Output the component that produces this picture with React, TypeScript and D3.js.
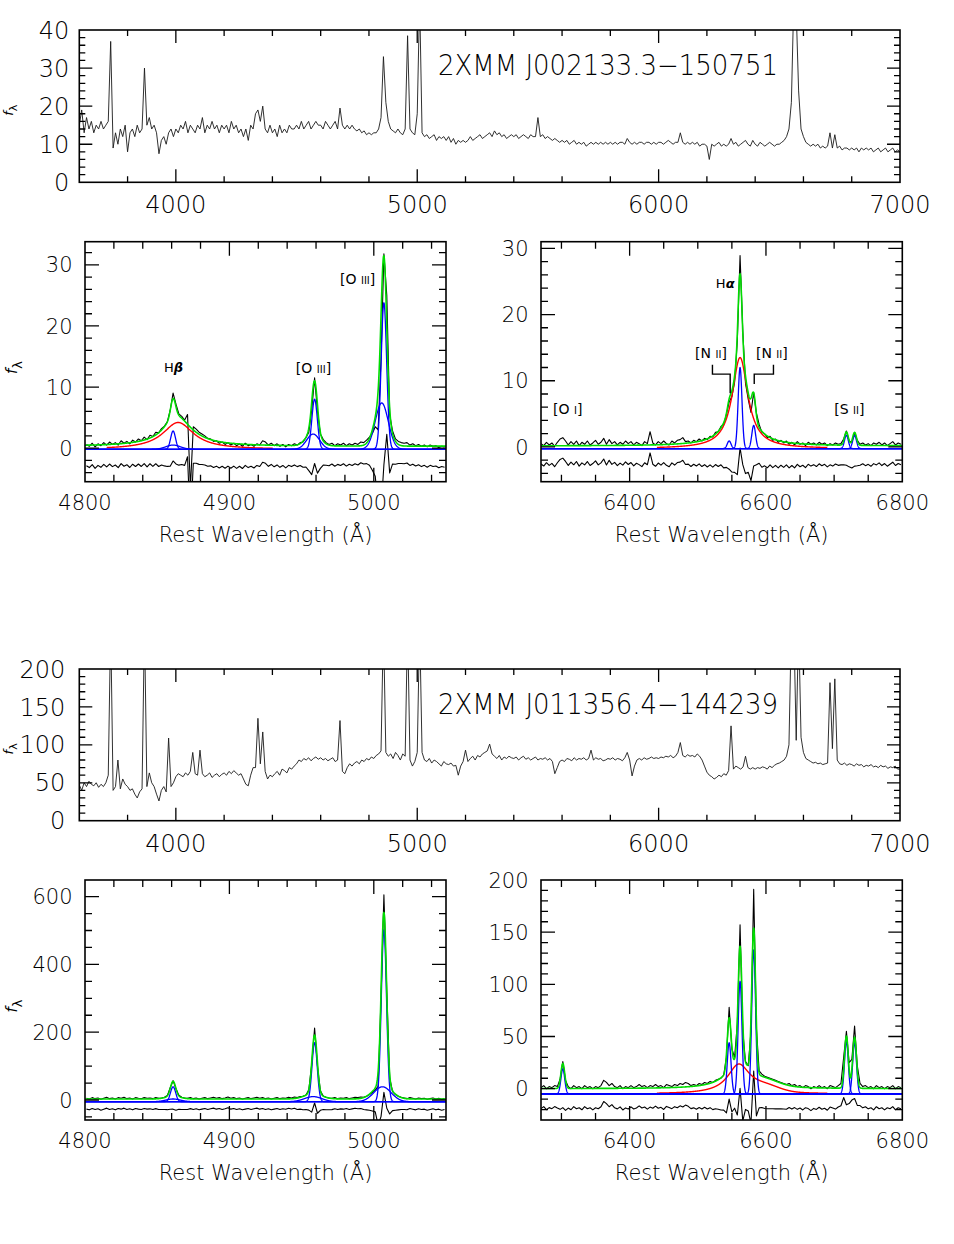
import React from 'react';
import * as d3 from 'd3';

// ---------- overview spectra (flux every 10 A from 3600 A) ----------
const OV_START = 3600;
const OV_STEP = 10;
const obj1Overview = [
  15, 19, 13, 17, 14, 16, 13, 15, 14, 16, // 3600
  14, 15, 16, 37, 9, 13, 10, 14, 12, 15, // 3700
  8, 13, 14, 12, 15, 13, 14, 30, 15, 17, // 3800
  14, 15, 13, 7.5, 11, 12, 10, 13, 14, 12, // 3900
  14, 13, 15, 14, 16, 13, 15, 14, 13, 15, // 4000
  14, 17, 13, 15, 14, 16, 14, 15, 13, 15, // 4100
  14, 15, 13, 16, 14, 15, 13, 14, 12, 14, // 4200
  11, 15, 14, 18, 19, 16, 20, 14, 13, 15, // 4300
  13, 14, 12, 15, 13, 14, 13, 15, 14, 14, // 4400
  15, 14, 16, 14, 15, 16, 14, 15, 16, 15, // 4500
  15, 14, 16, 15, 14, 15, 16, 14, 19.5, 15, // 4600
  14, 15, 14, 15, 14, 13.5, 14, 13, 13.5, 12.5, // 4700
  13, 12.5, 13, 13, 14, 17, 33, 21, 16, 14, // 4800
  13.5, 13, 14, 13, 12.5, 14, 38.5, 14, 13, 12.5, // 4900
  18, 48, 13, 12, 12.5, 11.5, 12, 12.5, 11, 12, // 5000
  11.5, 12, 11, 12, 10.5, 11.5, 10, 11, 10.5, 11, // 5100
  10.5, 11, 12, 11, 11.5, 12, 12.5, 11.5, 12, 12.5, // 5200
  13, 12, 13.5, 12.5, 13, 12, 12.5, 11.5, 12, 12.5, // 5300
  12, 12.5, 11.5, 12, 12.5, 12, 11.5, 12.5, 12, 12, // 5400
  17, 12, 12.5, 11.5, 12, 11.5, 11, 11.5, 11, 10.5, // 5500
  11, 10.5, 11, 10, 10.5, 11, 10, 10.5, 10, 10.5, // 5600
  9.5, 10, 10.5, 10, 10.5, 10, 10.5, 10, 10.5, 10, // 5700
  10.5, 10, 10.5, 10, 10.5, 10.5, 10, 11.5, 10.5, 10, // 5800
  10.5, 10, 10.5, 10.5, 10, 10.5, 10.5, 10, 10.5, 10, // 5900
  10.5, 10.5, 10, 10.5, 11, 10.5, 10, 10.5, 10.5, 13, // 6000
  10.5, 10, 10.5, 10, 10.5, 10, 10.5, 9.5, 10, 10, // 6100
  9.5, 6, 10, 9.5, 10, 10.5, 9.5, 10, 9.5, 10, // 6200
  11.5, 10, 10.5, 9.5, 10, 10.5, 11, 10, 9.5, 11, // 6300
  10, 9.5, 10.5, 10, 9.5, 10, 10.5, 10, 9.5, 10, // 6400
  10, 10.5, 11, 12, 14, 21, 48, 45, 24, 14, // 6500
  12, 10.5, 10, 9.5, 10, 9.5, 10, 9, 9.5, 9, // 6600
  9.5, 13, 9, 12.5, 9, 9.5, 8.5, 9, 9, 8.5, // 6700
  9, 8.5, 9, 8, 9, 8.5, 9, 8.5, 9, 8, // 6800
  8.5, 9, 8, 8.5, 9, 8, 8.5, 9, 8, 8.5, // 6900
  8,
];
const obj2Overview = [
  47, 40, 50, 45, 52, 48, 46, 50, 44, 48, // 3600
  45, 50, 60, 260, 40, 45, 80, 42, 55, 48, // 3700
  45, 40, 42, 35, 30, 38, 42, 260, 45, 63, // 3800
  50, 45, 35, 26, 40, 45, 38, 109, 45, 50, // 3900
  58, 62, 60, 58, 63, 60, 65, 90, 62, 60, // 4000
  93, 62, 58, 60, 63, 57, 60, 62, 58, 61, // 4100
  63, 60, 65, 62, 66, 63, 60, 62, 55, 48, // 4200
  46, 60, 70, 70, 135, 75, 117, 65, 55, 60, // 4300
  58, 62, 65, 60, 68, 66, 63, 70, 68, 72, // 4400
  75, 80, 78, 82, 80, 83, 79, 82, 84, 81, // 4500
  83, 80, 82, 79, 81, 83, 78, 80, 132, 65, // 4600
  62, 70, 75, 72, 76, 78, 75, 80, 78, 82, // 4700
  80, 84, 82, 86, 88, 92, 260, 90, 85, 88, // 4800
  82, 90, 86, 80, 88, 85, 260, 80, 72, 78, // 4900
  90, 260, 90, 80, 78, 82, 76, 80, 78, 75, // 5000
  72, 78, 75, 74, 76, 72, 73, 60, 72, 78, // 5100
  93, 78, 82, 85, 80, 86, 84, 88, 90, 92, // 5200
  101, 88, 85, 82, 86, 80, 84, 82, 85, 83, // 5300
  82, 84, 80, 83, 85, 81, 83, 80, 82, 84, // 5400
  80, 82, 81, 83, 80, 82, 78, 62, 70, 78, // 5500
  80, 78, 82, 81, 79, 83, 80, 82, 81, 83, // 5600
  80, 82, 93, 80, 83, 81, 82, 79, 80, 82, // 5700
  81, 83, 80, 82, 81, 79, 83, 90, 80, 59, // 5800
  72, 80, 82, 80, 83, 81, 82, 84, 82, 83, // 5900
  82, 84, 83, 85, 84, 86, 83, 85, 90, 103, // 6000
  86, 84, 87, 85, 86, 84, 88, 85, 80, 72, // 6100
  64, 60, 58, 55, 57, 60, 58, 62, 60, 66, // 6200
  125, 68, 72, 70, 68, 71, 85, 70, 68, 70, // 6300
  68, 70, 69, 71, 70, 68, 72, 70, 73, 75, // 6400
  76, 78, 80, 85, 100, 260, 260, 106, 260, 110, // 6500
  90, 82, 80, 78, 76, 77, 75, 76, 74, 75, // 6600
  76, 182, 95, 187, 80, 75, 74, 76, 73, 75, // 6700
  74, 72, 75, 73, 74, 71, 73, 72, 74, 71, // 6800
  72, 70, 73, 71, 72, 69, 71, 70, 72, 68, // 6900
  68,
];

// ---------- zoomed spectra ----------
const HB_START = 4801; // every 2 A
const HB_STEP = 2;
const HA_START = 6270; // every 4 A
const HA_STEP = 4;

const obj1HbFlux = [
  0.6, 0.3, 0.8, 0.2, 0.7, 0.4, 0.9, 0.5, 1.0, 0.6,
  0.9, 0.5, 1.2, 0.8, 1.1, 0.7, 1.3, 1.0, 1.5, 1.2,
  1.8, 1.4, 2.1, 1.9, 2.6, 2.5, 3.2, 3.6, 4.3, 6.2,
  9.0, 7.2, 5.6, 5.2, 4.6, 5.5, -6.5, 3.5, 3.1, 2.6,
  2.3, 2.0, 1.6, 1.5, 1.1, 1.2, 0.8, 1.0, 0.6, 0.9,
  0.5, 0.8, 0.4, 0.7, 0.3, 0.8, 0.4, 0.6, 0.3, 0.7,
  0.5, 1.2, 1.0, 0.5, 0.8, 0.4, 0.7, 0.3, 0.6, 0.2,
  0.6, 0.4, 0.7, 0.5, 0.9, 1.0, 1.7, 2.6, 6.2, 11.5,
  6.0, 2.3, 1.4, 0.9, 0.6, 0.8, 0.4, 0.7, 0.5, 0.8,
  0.4, 0.7, 0.5, 0.8, 0.6, 1.0, 0.9, 1.3, 1.8, 2.4,
  3.5, 3.0, 14.5, 31.8, 25.0, 5.5, 2.8, 1.5, 1.1, 0.9,
  0.8, 0.9, 0.5, 0.7, 0.4, 0.6, 0.3, 0.5, 0.2, 0.5,
  0.3, 0.4, 0.1, 0.3, 0.2,
];
const obj1HaFlux = [
  0.5, 0.2, 0.7, 0.3, 0.6, 0.1, 0.7, 1.2, 1.4, 0.9,
  0.3, 0.8, 0.4, 0.9, 0.2, 0.7, 0.4, 0.9, 0.3, 0.6,
  1.0, 0.4, 0.7, 1.3, 0.4, 1.1, 0.5, 0.8, 0.3, 0.7,
  0.4, 0.9, 0.5, 0.8, 0.3, 0.7, 0.5, 0.2, 0.8, 0.5,
  2.3, 0.6, 0.3, 0.8, 0.5, 0.9, 0.5, 0.3, 0.9, 0.6,
  1.0, 1.1, 1.4, 0.8, 0.9, 0.6, 1.0, 0.8, 1.2, 0.9,
  1.3, 1.1, 1.6, 1.5, 2.2, 2.3, 3.1, 3.4, 4.9, 6.8,
  7.6, 9.8, 16.0, 28.9, 17.5, 9.6, 7.2, 5.2, 8.2, 5.1,
  3.4, 2.2, 2.0, 1.4, 1.6, 1.0, 1.2, 0.7, 1.0, 0.6,
  0.9, 0.4, 0.7, 0.3, 0.8, 0.4, 0.6, 0.2, 0.7, 0.4,
  0.6, 0.3, 0.7, 0.4, 0.6, 0.2, 0.5, 0.3, 0.6, 0.4,
  0.5, 1.2, 2.4, 0.9, 0.7, 2.2, 1.0, 0.4, 0.6, 0.3,
  0.5, 0.2, 0.6, 0.4, 0.7, 0.3, 0.6, 0.2, 0.5, 0.8,
  0.3, 0.6, 0.4,
];
const obj2HbFlux = [
  5, 3, 7, 4, 6, 2, 5, 8, 4, 6,
  3, 7, 5, 8, 4, 6, 3, 7, 5, 4,
  7, 5, 6, 4, 7, 5, 6, 8, 13, 36,
  57, 33, 14, 8, 6, 5, 7, 4, 6, 3,
  5, 7, 4, 6, 8, 5, 7, 4, 6, 9,
  5, 7, 4, 6, 3, 5, 7, 4, 6, 8,
  5, 7, 4, 6, 3, 5, 7, 4, 6, 5,
  8, 6, 9, 7, 10, 11, 15, 30, 105, 212,
  100, 27, 12, 8, 6, 5, 7, 4, 6, 5,
  7, 4, 6, 8, 7, 9, 8, 11, 16, 22,
  30, 40, 300, 605, 320, 65, 25, 16, 11, 8,
  6, 4, 7, 5, 3, 6, 4, 5, 2, 4,
  6, 3, 5, 2, 4,
];
const obj2HaFlux = [
  1, 3, 0, 2, 1, 3, 2, 9, 26, 8,
  2, 0, 3, 1, 2, 0, 3, 1, 2, 0,
  2, 1, 3, 8, 6, 3, 5, 2, 1, 3,
  0, 2, 1, 3, 1, 2, 4, 2, 3, 1,
  3, 2, 4, 2, 3, 1, 4, 3, 2, 4,
  3, 5, 4, 6, 5, 3, 4, 3, 5, 4,
  6, 5, 7, 6, 8, 9, 10, 13, 30, 78,
  38, 30, 62, 157, 55, 26, 22, 55, 191, 58,
  17, 14, 12, 11, 10, 9, 8, 7, 6, 5,
  4, 5, 3, 4, 2, 3, 1, 3, 2, 0,
  2, 1, 3, 1, 2, 0, 3, 2, 1, 3,
  5, 30, 55, 25, 28, 60, 22, 5, 2, 3,
  1, 2, 0, 3, 1, 2, 0, 2, 1, 3,
  0, 2, 1,
];

// fitted narrow components (blue): [centre A, peak, sigma A]
const obj1HbBlue = [[4861, 3.0, 1.7], [4861, 0.7, 5], [4959, 8.2, 1.9], [4958, 2.5, 4.5], [5007, 24, 1.9], [5005.5, 7.6, 4.5]];
const obj1HaBlue = [[6546, 1.15, 2.8], [6562, 12.25, 2.8], [6582, 3.5, 2.8], [6718, 2.0, 2.8], [6730, 1.95, 2.8]];
const obj2HbBlue = [[4861, 44, 1.8], [4861, 8, 5], [4959, 174, 1.8], [4958, 15, 6], [5007, 507, 1.8], [5006, 44, 6]];
const obj2HaBlue = [[6302, 24, 2.8], [6546, 49, 2.8], [6562, 108, 2.8], [6582, 138, 2.8], [6718, 50, 2.8], [6730, 49, 2.8]];
// broad component (red): [centre A, peak, width A, L = lorentzian | G = gaussian]
const obj1HbRed = [[4864.5, 4.4, 13, 'L']];
const obj1HaRed = [[6562, 13.75, 14, 'L']];
const obj2HbRed: any[] = [];
const obj2HaRed = [[6560, 28, 20, 'L'], [6600, 5, 20, 'G']];

// line labels: [text, wavelength, flux]
const obj1HbLabels = [['Hβ', 4854.7, 12.5], ['[O III]', 4946, 12.3], ['[O III]', 4976.6, 26.9]];
const obj1HaLabels = [['Hα', 6526.5, 24.0], ['[N II]', 6496, 13.4], ['[N II]', 6585.3, 13.4], ['[O I]', 6287.6, 5.0], ['[S II]', 6700.2, 5.0]];
// [N II] brackets: [outer A, inner A, top, elbow, bottom]
const obj1HaBrackets = [[6521.5, 6547.5, 12.4, 11.0, 8.1], [6611, 6582.8, 12.4, 11.0, 9.5]];

const FONT = "'DejaVu Sans', 'Liberation Sans', sans-serif";
const GREEN = '#00dd00';

const gauss = (l: number, c: number, a: number, s: number) => a * Math.exp(-((l - c) ** 2) / (2 * s * s));
const lorentz = (l: number, c: number, a: number, g: number) => a / (1 + ((l - c) / g) ** 2);
const broadTerm = (l: number, t: any[]) => (t[3] === 'L' ? lorentz(l, t[0], t[1], t[2]) : gauss(l, t[0], t[1], t[2]));

function tickValues(lo: number, hi: number, step: number) {
  const out: number[] = [];
  for (let v = Math.ceil(lo / step - 1e-9) * step; v <= hi + 1e-9; v += step) out.push(Math.round(v * 1000) / 1000);
  return out;
}
const isMajor = (v: number, m: number) => Math.abs(v / m - Math.round(v / m)) < 1e-6;

function Axes({ x, y, xMinor, xMajor, yMinor, yMajor, majorLen, minorLen, fontSize, xGap, yGap }: any) {
  const [x0, x1] = x.range();
  const [yb, yt] = y.range();
  const xd = x.domain();
  const yd = y.domain();
  let d = '';
  tickValues(xd[0], xd[1], xMinor)
    .filter((v) => v > xd[0] + 1e-6 && v < xd[1] - 1e-6)
    .forEach((v) => {
      const len = isMajor(v, xMajor) ? majorLen : minorLen;
      d += `M${x(v)},${yb}v${-len}M${x(v)},${yt}v${len}`;
    });
  tickValues(yd[0], yd[1], yMinor)
    .filter((v) => v > yd[0] + 1e-6 && v < yd[1] - 1e-6)
    .forEach((v) => {
      const len = isMajor(v, yMajor) ? majorLen : minorLen;
      d += `M${x0},${y(v)}h${len}M${x1},${y(v)}h${-len}`;
    });
  return (
    <g>
      <path d={d} stroke="#000" strokeWidth={1.3} fill="none" />
      <rect x={x0} y={yt} width={x1 - x0} height={yb - yt} fill="none" stroke="#000" strokeWidth={1.6} />
      {tickValues(xd[0], xd[1], xMajor).map((v) => (
        <text key={'x' + v} x={x(v)} y={yb + xGap} textAnchor="middle" fontSize={fontSize}>
          {v}
        </text>
      ))}
      {tickValues(yd[0], yd[1], yMajor).map((v) => (
        <text key={'y' + v} x={x0 - yGap} y={y(v) + fontSize * 0.36} textAnchor="end" fontSize={fontSize}>
          {v}
        </text>
      ))}
    </g>
  );
}

function LineLabel({ text, x, y }: any) {
  if (text[0] === 'H') {
    return (
      <text x={x} y={y} fontSize={13} fontWeight={400}>
        H<tspan fontStyle="italic" fontWeight="bold">{text.slice(1)}</tspan>
      </text>
    );
  }
  const [el, ion] = text.slice(1, -1).split(' ');
  return (
    <text x={x} y={y} fontSize={14} fontWeight={400}>
      [{el} <tspan fontSize={10}>{ion}</tspan>]
    </text>
  );
}

function YLabel({ x, y, fontSize, sub }: any) {
  return (
    <text transform={`translate(${x},${y}) rotate(-90)`} fontSize={fontSize} fontWeight={400} textAnchor="middle">
      <tspan fontStyle="italic">f</tspan>
      <tspan dy={sub} fontSize={fontSize * 0.85}>λ</tspan>
    </text>
  );
}

function Overview({ id, box, yDomain, yMajor, yMinor, flux, title, yGap }: any) {
  const x = d3.scaleLinear().domain([3600, 7000]).range([box.left, box.right]);
  const y = d3.scaleLinear().domain(yDomain).range([box.bottom, box.top]);
  const pts = flux.map((f: number, i: number) => [OV_START + i * OV_STEP, f]);
  const line = d3.line<any>().x((d) => x(d[0])).y((d) => y(d[1]));
  return (
    <g>
      <clipPath id={id}>
        <rect x={box.left} y={box.top} width={box.right - box.left} height={box.bottom - box.top} />
      </clipPath>
      <path d={line(pts) || ''} fill="none" stroke="#1a1a1a" strokeWidth={0.9} clipPath={`url(#${id})`} />
      <Axes x={x} y={y} xMinor={200} xMajor={1000} yMinor={yMinor} yMajor={yMajor} majorLen={13} minorLen={6} fontSize={24} xGap={31} yGap={yGap} />
      <text x={x(5086)} y={box.top + 45} fontSize={28} textLength={340} lengthAdjust="spacingAndGlyphs">
        {title}
      </text>
      <YLabel x={13} y={(box.top + box.bottom) / 2 + 4} fontSize={13} sub={4} />
    </g>
  );
}

function Detail(p: any) {
  const x = d3.scaleLinear().domain(p.xDomain).range([p.box.left, p.box.right]);
  const y = d3.scaleLinear().domain(p.yDomain).range([p.box.bottom, p.box.top]);
  const line = d3.line<any>().x((d) => x(d[0])).y((d) => y(d[1]));
  const broad = (l: number) => p.red.reduce((s: number, t: any[]) => s + broadTerm(l, t), 0);
  const model = (l: number) =>
    p.greenBase + broad(l) + p.blue.reduce((s: number, t: number[]) => s + gauss(l, t[0], t[1], t[2]), 0);
  const lam = p.flux.map((_: number, i: number) => p.start + i * p.step);
  const fine = d3.range(p.xDomain[0], p.xDomain[1] + 0.01, 0.2);
  const dataPts = lam.map((l: number, i: number) => [l, p.flux[i]]);
  const residPts = lam.map((l: number, i: number) => [l, p.flux[i] - model(l) + p.residOffset]);
  const redPts = p.red.length
    ? fine.filter((l) => l >= p.redRange[0] && l <= p.redRange[1]).map((l) => [l, p.compBase + broad(l)])
    : null;
  const bluePts = p.blue.map((t: number[]) => fine.map((l) => [l, p.compBase + gauss(l, t[0], t[1], t[2])]));
  const greenPts = fine.map((l) => [l, model(l)]);
  const clip = `url(#${p.id})`;
  return (
    <g>
      <clipPath id={p.id}>
        <rect x={p.box.left} y={p.box.top} width={p.box.right - p.box.left} height={p.box.bottom - p.box.top} />
      </clipPath>
      <g clipPath={clip} fill="none" strokeLinejoin="round">
        <path d={line(dataPts) || ''} stroke="#000" strokeWidth={1.1} />
        <path d={line(residPts) || ''} stroke="#000" strokeWidth={1.1} />
        {redPts && <path d={line(redPts) || ''} stroke="#ff0000" strokeWidth={1.4} />}
        {bluePts.map((pts: any, i: number) => (
          <path key={i} d={line(pts) || ''} stroke="#0000ff" strokeWidth={1.3} />
        ))}
        <path d={line(greenPts) || ''} stroke={GREEN} strokeWidth={1.6} />
      </g>
      <Axes x={x} y={y} xMinor={p.xMinor} xMajor={p.xMajor} yMinor={p.yMinor} yMajor={p.yMajor} majorLen={14} minorLen={7} fontSize={21} xGap={28} yGap={12.5} />
      {(p.labels || []).map((l: any, i: number) => (
        <LineLabel key={i} text={l[0]} x={x(l[1])} y={y(l[2])} />
      ))}
      {(p.brackets || []).map((b: number[], i: number) => (
        <path
          key={'b' + i}
          d={`M${x(b[0])},${y(b[2])}V${y(b[3])}H${x(b[1])}V${y(b[4])}`}
          fill="none"
          stroke="#000"
          strokeWidth={1.4}
        />
      ))}
      <text x={(p.box.left + p.box.right) / 2} y={p.box.bottom + 60} textAnchor="middle" fontSize={21}>
        Rest Wavelength (Å)
      </text>
      {p.showYLabel && <YLabel x={17} y={(p.box.top + p.box.bottom) / 2 + 6} fontSize={15} sub={5} />}
    </g>
  );
}

const HB_RANGE = [4800, 5050];
const HA_RANGE = [6270, 6800];

export default function App() {
  return (
    <svg
      width={954}
      height={1244}
      style={{ position: 'absolute', left: 0, top: 0, background: '#fff' }}
      fontFamily={FONT}
      fontWeight={200}
    >
      <rect width={954} height={1244} fill="#fff" />
      <Overview
        id="ov1"
        box={{ left: 79.3, right: 900, top: 30, bottom: 182.3 }}
        yDomain={[0, 40]}
        yMajor={10}
        yMinor={2}
        flux={obj1Overview}
        title="2XMM J002133.3−150751"
        yGap={10}
      />
      <Detail
        id="p1hb"
        box={{ left: 85, right: 446, top: 241.7, bottom: 481.7 }}
        xDomain={HB_RANGE}
        yDomain={[-5.5, 33.8]}
        xMajor={100}
        xMinor={20}
        yMajor={10}
        yMinor={2}
        start={HB_START}
        step={HB_STEP}
        flux={obj1HbFlux}
        blue={obj1HbBlue}
        red={obj1HbRed}
        redRange={[4815, 4930]}
        greenBase={0.3}
        compBase={-0.2}
        residOffset={-3}
        labels={obj1HbLabels}
        showYLabel
      />
      <Detail
        id="p1ha"
        box={{ left: 541, right: 902.3, top: 241.7, bottom: 481.7 }}
        xDomain={HA_RANGE}
        yDomain={[-5.25, 31]}
        xMajor={200}
        xMinor={50}
        yMajor={10}
        yMinor={2}
        start={HA_START}
        step={HA_STEP}
        flux={obj1HaFlux}
        blue={obj1HaBlue}
        red={obj1HaRed}
        redRange={[6440, 6690]}
        greenBase={0.15}
        compBase={-0.25}
        residOffset={-2.9}
        labels={obj1HaLabels}
        brackets={obj1HaBrackets}
      />
      <Overview
        id="ov2"
        box={{ left: 79.3, right: 900, top: 669, bottom: 820.7 }}
        yDomain={[0, 200]}
        yMajor={50}
        yMinor={10}
        flux={obj2Overview}
        title="2XMM J011356.4−144239"
        yGap={14}
      />
      <Detail
        id="p2hb"
        box={{ left: 85, right: 446, top: 880, bottom: 1120 }}
        xDomain={HB_RANGE}
        yDomain={[-59, 649]}
        xMajor={100}
        xMinor={20}
        yMajor={200}
        yMinor={50}
        start={HB_START}
        step={HB_STEP}
        flux={obj2HbFlux}
        blue={obj2HbBlue}
        red={obj2HbRed}
        redRange={HB_RANGE}
        greenBase={3}
        compBase={-5}
        residOffset={-29}
        showYLabel
      />
      <Detail
        id="p2ha"
        box={{ left: 541, right: 902.3, top: 880, bottom: 1120 }}
        xDomain={HA_RANGE}
        yDomain={[-30, 200]}
        xMajor={50 * 4}
        xMinor={50}
        yMajor={50}
        yMinor={10}
        start={HA_START}
        step={HA_STEP}
        flux={obj2HaFlux}
        blue={obj2HaBlue}
        red={obj2HaRed}
        redRange={[6440, 6690]}
        greenBase={0}
        compBase={-5}
        residOffset={-20}
      />
    </svg>
  );
}
